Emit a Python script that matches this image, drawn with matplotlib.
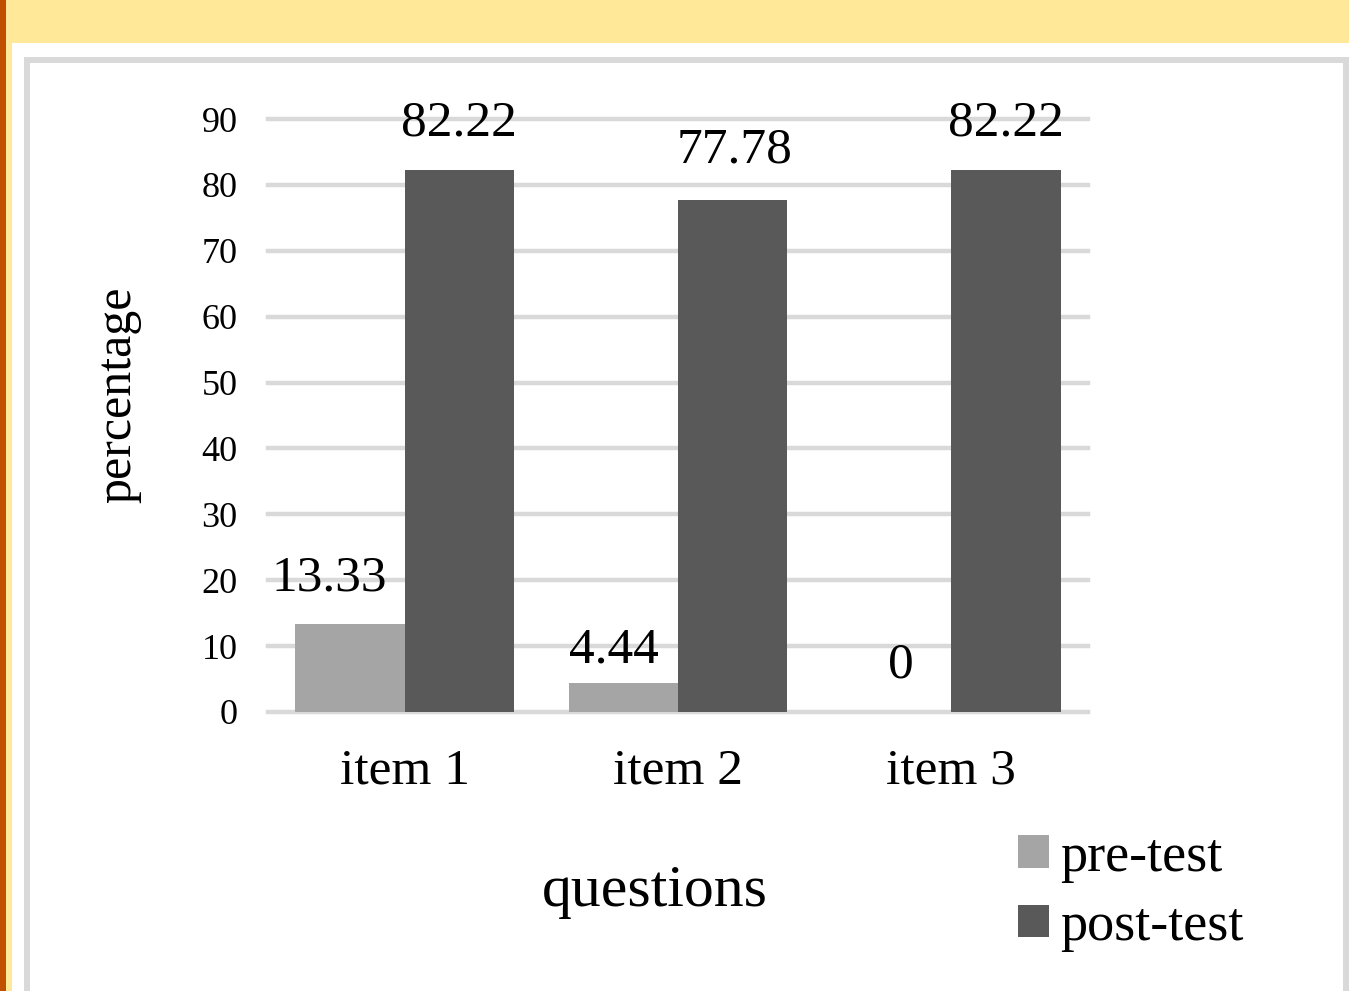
import matplotlib
matplotlib.use("Agg")
import matplotlib.pyplot as plt
from matplotlib.patches import Rectangle, Patch
import numpy as np

categories = ["item 1", "item 2", "item 3"]
pre_test = [13.33, 4.44, 0]
post_test = [82.22, 77.78, 82.22]
series_names = ["pre-test", "post-test"]
y_ticks = [0, 10, 20, 30, 40, 50, 60, 70, 80, 90]

# label offsets in pixels (dx, dy) relative to bar top centre
pre_offsets = [(-21, 46), (-9, 32), (4, 47)]
post_offsets = [(0, 47), (2, 49), (0, 47)]

W, H = 1349, 991
plt.rcParams['font.family'] = ['Liberation Serif', 'DejaVu Serif']
fig = plt.figure(figsize=(W / 100, H / 100), dpi=100)
fig.patch.set_facecolor('white')

def fx(px):
    return px / W

def fy(py):
    return 1 - py / H

# page decorations
fig.patches.append(Rectangle((0, fy(43)), 1, 43 / H, transform=fig.transFigure,
                             facecolor='#FFE999', edgecolor='none', zorder=0))
fig.patches.append(Rectangle((fx(6), 0), 6 / W, 1, transform=fig.transFigure,
                             facecolor='#FFE999', edgecolor='none', zorder=0))
fig.patches.append(Rectangle((0, 0), 6 / W, 1, transform=fig.transFigure,
                             facecolor='#C04F00', edgecolor='none', zorder=0))
fig.patches.append(Rectangle((fx(27), fy(1010)), (1346 - 27) / W, (1010 - 60) / H,
                             transform=fig.transFigure, facecolor='none',
                             edgecolor='#D9D9D9', linewidth=4.3, zorder=0))

ax = fig.add_axes([fx(268), fy(712), (1088 - 268) / W, (712 - 119) / H])
ax.set_zorder(3)
ax.set_facecolor('none')
x = np.arange(len(categories))
w = 0.4
pre_c, post_c = '#A5A5A5', '#595959'
b1 = ax.bar(x - w / 2, pre_test, w, color=pre_c, zorder=3)
b2 = ax.bar(x + w / 2, post_test, w, color=post_c, zorder=3)

ax.set_xlim(-0.5, len(categories) - 0.5)
ax.set_ylim(0, 90)
ax.set_yticks(y_ticks)
ax.set_yticklabels([str(t) for t in y_ticks], fontsize=26)
ax.set_xticks(x)
ax.set_xticklabels(categories, fontsize=37)
ax.tick_params(axis='both', length=0)
ax.tick_params(axis='y', pad=22)
ax.tick_params(axis='x', pad=26)
for s in ax.spines.values():
    s.set_visible(False)
ax.yaxis.grid(True, color='#D9D9D9', linewidth=3.2, zorder=0)
for gl in ax.get_ygridlines():
    gl.set_clip_on(False)
ax.set_axisbelow(True)

for xi, v, (dx, dy) in zip(x - w / 2, pre_test, pre_offsets):
    ax.annotate(f"{v:g}", (xi, v), xytext=(dx, dy), textcoords='offset pixels',
                ha='center', va='center', fontsize=37, zorder=5)
for xi, v, (dx, dy) in zip(x + w / 2, post_test, post_offsets):
    ax.annotate(f"{v:g}", (xi, v), xytext=(dx, dy), textcoords='offset pixels',
                ha='center', va='center', fontsize=37, annotation_clip=False, zorder=5)

ax.set_xlabel("questions", fontsize=43, va='center')
ax.xaxis.set_label_coords((655 - 268) / 820, (712 - 892) / 593)
ax.set_ylabel("percentage", fontsize=36, va='center', ha='center')
ax.yaxis.set_label_coords((118 - 268) / 820, (712 - 395) / 593)

handles = [Patch(facecolor=pre_c, edgecolor='none'), Patch(facecolor=post_c, edgecolor='none')]
fig.legend(handles, series_names, loc='center left', bbox_to_anchor=(fx(1018), fy(892)),
           frameon=False, fontsize=39, handlelength=0.58, handleheight=0.55,
           handletextpad=0.2, labelspacing=0.35, borderpad=0, borderaxespad=0)

fig.savefig("out.png", dpi=100, facecolor='white')
